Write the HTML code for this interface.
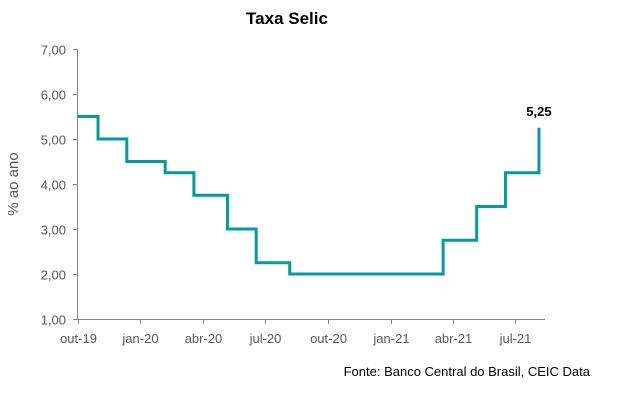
<!DOCTYPE html>
<html><head><meta charset="utf-8"><style>
body{margin:0;background:#fff;}
svg{display:block;font-family:"Liberation Sans",sans-serif;}
</style></head><body>
<svg id="chart" width="628" height="401">
<text x="287" y="24" text-anchor="middle" font-weight="bold" font-size="17" fill="#000">Taxa Selic</text>
<text transform="translate(18,184) rotate(-90)" text-anchor="middle" font-size="15" fill="#595959">% ao ano</text>
<text x="590" y="376" text-anchor="end" font-size="13" fill="#000">Fonte: Banco Central do Brasil, CEIC Data</text>
<g id="axes"></g>
<g id="series"></g>
</svg>
<script>
const yTicks=[1,2,3,4,5,6,7];
const xTickLabels=["out-19","jan-20","abr-20","jul-20","out-20","jan-21","abr-21","jul-21"];
const xTickDates=["2019-10-01","2020-01-01","2020-04-01","2020-07-01","2020-10-01","2021-01-01","2021-04-01","2021-07-01"];
const changeDates=["2019-10-01","2019-10-31","2019-12-12","2020-02-06","2020-03-19","2020-05-07","2020-06-18","2020-08-06","2021-03-18","2021-05-06","2021-06-17","2021-08-05"];
const rates=[5.5,5.0,4.5,4.25,3.75,3.0,2.25,2.0,2.75,3.5,4.25,5.25];
const lastLabel="5,25";

const NS="http://www.w3.org/2000/svg";
const t0=Date.parse("2019-10-01"),t1=Date.parse("2021-07-01");
const X=d=>77.5+(Date.parse(d)-t0)/(t1-t0)*(515-77.5);
const Y=v=>319-(v-1)*45;
function mk(tag,attrs,parent){const e=document.createElementNS(NS,tag);for(const k in attrs)e.setAttribute(k,attrs[k]);parent.appendChild(e);return e;}
const ax=document.getElementById('axes'),se=document.getElementById('series');
let l=mk('line',{x1:77.5,y1:Y(7),x2:77.5,y2:Y(1)+0.5,stroke:'#868686','stroke-width':1},ax);


l=mk('line',{x1:77,y1:Y(1)+0.5,x2:545,y2:Y(1)+0.5,stroke:'#868686','stroke-width':1},ax);


yTicks.forEach(v=>{
  const y=Math.round(Y(v))+0.5;
  const tk=mk('line',{x1:73,y1:y,x2:77.5,y2:y,stroke:'#868686'},ax);
  
  
  const t=mk('text',{x:66,y:y+5,'text-anchor':'end','font-size':13,fill:'#595959'},ax);
  t.textContent=v.toFixed(2).replace('.',',');
  
  
});
xTickDates.forEach((d,i)=>{
  const x=Math.round(X(d))+0.5;
  const tk=mk('line',{x1:x,y1:319,x2:x,y2:324,stroke:'#868686'},ax);
  
  
  const t=mk('text',{x:x,y:343,'text-anchor':'middle','font-size':13,fill:'#595959'},ax);
  t.textContent=xTickLabels[i];
  
  
});
let d='';
rates.forEach((r,i)=>{
  const x=X(changeDates[i]);
  if(i===0)d+='M'+x+' '+Y(r);else d+=' L'+x+' '+Y(rates[i-1])+' L'+x+' '+Y(r);
  if(i<rates.length-1)d+=' L'+X(changeDates[i+1])+' '+Y(r);
});
const p=mk('path',{d:d,fill:'none',stroke:'#069a9a','stroke-width':3},se);


const lb=mk('text',{x:X(changeDates[changeDates.length-1]),y:Y(rates[rates.length-1])-12,'text-anchor':'middle','font-size':13,'font-weight':'bold',fill:'#000'},se);
lb.textContent=lastLabel;


</script>
</body></html>
